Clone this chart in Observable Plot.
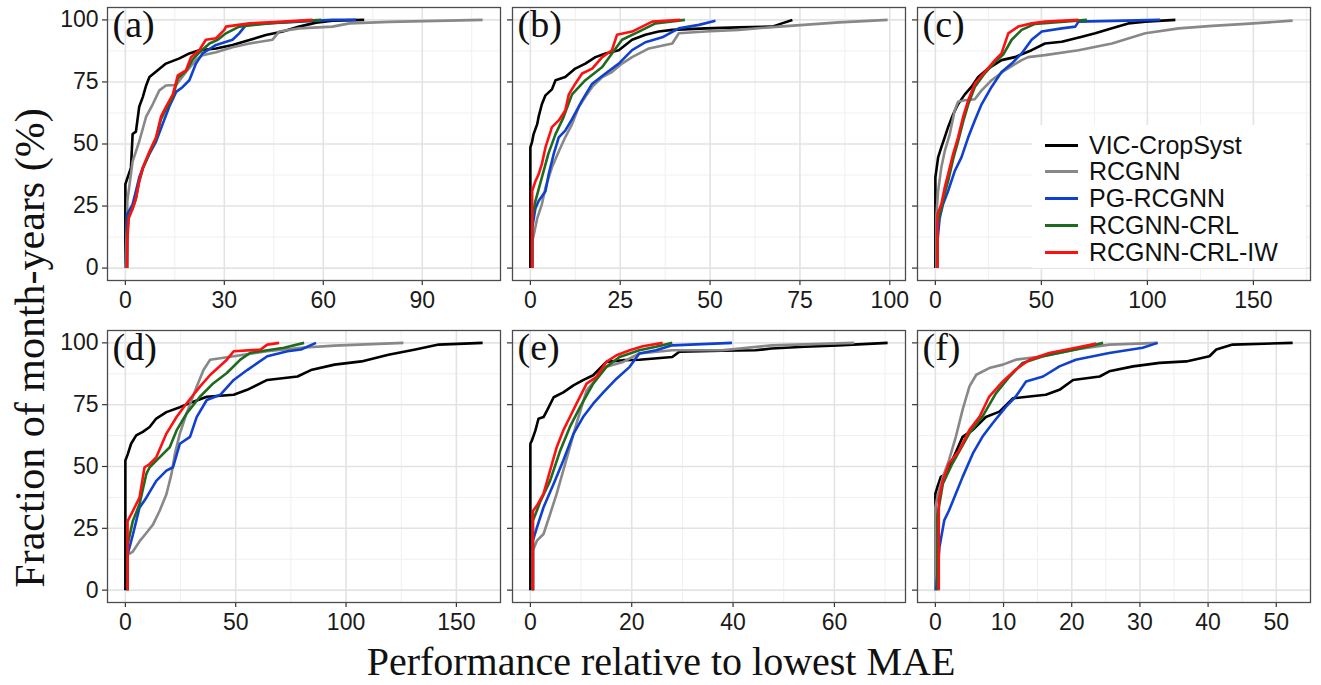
<!DOCTYPE html>
<html><head><meta charset="utf-8">
<script src="https://cdn.jsdelivr.net/npm/d3@7"></script>
<script src="https://cdn.jsdelivr.net/npm/@observablehq/plot@0.6"></script>
<style>
body{margin:0;background:#fff;}
#fig{position:relative;width:1321px;height:685px;overflow:hidden;background:#fff;}
.pan{position:absolute;}
.pan svg{overflow:visible;}
#ytitle{position:absolute;left:30px;top:348px;transform:translate(-50%,-50%) rotate(-90deg);font-family:"Liberation Serif",serif;font-size:42px;line-height:42px;white-space:nowrap;color:#111;}
#xtitle{position:absolute;left:661px;top:662px;transform:translate(-50%,-50%);font-family:"Liberation Serif",serif;font-size:40px;line-height:40px;white-space:nowrap;color:#111;}
#legend{position:absolute;left:1032px;top:125px;width:274px;height:143px;background:#fff;font-family:"Liberation Sans",Arial,sans-serif;font-size:25px;color:#111;}
#legend .row{position:absolute;left:0;height:26px;display:flex;align-items:center;}
#legend .key{width:33px;height:3px;margin-left:13px;margin-right:11px;}
#legend .lab{display:inline-block;height:25px;line-height:25px;overflow:visible;}
</style></head><body><div id="fig">
<div id="ytitle">Fraction of month-years (%)</div>
<div id="xtitle">Performance relative to lowest MAE</div>
</div>
<script>
const models = ["VIC-CropSyst","RCGNN","PG-RCGNN","RCGNN-CRL","RCGNN-CRL-IW"];
const colors = ["#000000","#888888","#1040d0","#1e6b1e","#ff1010"];
const yTicks = [0,25,50,75,100];
const xTicks_a = [0,30,60,90];
const xTicks_b = [0,25,50,75,100];
const xTicks_c = [0,50,100,150];
const xTicks_d = [0,50,100,150];
const xTicks_e = [0,20,40,60];
const xTicks_f = [0,10,20,30,40,50];
const panelLabels = ["(a)","(b)","(c)","(d)","(e)","(f)"];

// panel (a)
const a_vic = [[0,0],[0,33.8],[1.7,40.5],[2.2,54],[3.2,55],[4.2,65],[5.3,69],[6.3,73.6],[7.3,77],[9.8,79.7],[12.3,82.4],[16.4,84.5],[19.4,86.5],[22.4,87.8],[27.5,88.5],[32.5,89.9],[37.6,91.9],[42.6,93.9],[47.7,95.3],[52.7,97.3],[57.8,98.9],[62.8,99.7],[72.4,100]];
const a_rcgnn = [[0,0],[0.5,20],[0.6,27],[2.2,43],[4.2,51],[6.3,61],[8.3,66],[10.3,71.6],[12.3,73.6],[15.4,73.8],[18.4,79],[21.4,83.8],[23.4,85.8],[27.5,87],[32.5,89],[37.6,90.5],[44.6,92],[46.6,95.3],[52.7,96.6],[62.8,97.3],[67.9,98.6],[80,99.2],[108.3,100]];
const a_pg = [[0.5,0],[0.5,21.6],[2.2,25.7],[3.2,31],[4.2,36.5],[5.3,40.5],[7.3,46],[9.3,51],[11.3,58],[13.3,65],[15.4,71],[17.4,73],[19.4,75.7],[21.4,82.4],[23.4,86.5],[27.5,89.9],[32.5,92],[34.5,94.6],[36.6,98],[42.6,98.6],[52.7,99.3],[62.8,100],[69.9,100]];
const a_crl = [[0.5,0],[0.6,14],[1,21],[2.2,24],[3.2,28],[4.2,35],[5.3,40],[7.3,46.5],[9.3,52],[10.8,60],[12.3,64],[14.4,69],[15.9,76.5],[18.4,79.5],[20.4,84],[22.4,86.8],[25.5,90.5],[28,92],[30.5,94.6],[34.5,97.3],[45,98.8],[59.4,100]];
const a_iw = [[0.5,0],[0.6,10.8],[1,20],[2.2,24],[3.2,28],[4.2,35],[5.3,40.5],[7.3,47],[9.3,52.7],[10.8,61],[12.3,65],[14.4,70],[15.9,77.7],[18.4,79.7],[19.9,85],[22.4,87.8],[24.4,92],[27.5,92.6],[30,96],[30.5,97.3],[37.6,98.6],[47.7,99.3],[56.8,100]];

// panel (b)
const b_vic = [[0,0],[0,48.6],[0.5,51],[0.9,54],[1.9,58],[2.3,61],[3.2,66],[4.2,69.6],[6,72],[7,75.7],[9.7,77],[12.5,80.4],[15.3,82.4],[18.1,85],[20.9,86.5],[24.6,87.8],[28.3,92],[32,94],[35.7,95.3],[39.5,96],[48.7,96.6],[58,97],[67.3,97.3],[70,98.6],[72.9,100]];
const b_rcgnn = [[0.5,0],[0.5,10.8],[0.9,13],[1.9,20],[3.2,25.7],[4.2,32.4],[6,40.5],[7.9,47],[9.7,52.7],[11.6,58],[13.5,65],[15.3,69],[17.2,73],[20,77],[22.7,79],[25.5,82.4],[28.3,85],[33,88.5],[39.5,90.5],[41.3,94.6],[48.7,95.3],[58,96],[69.2,97.3],[85.9,99],[99.4,100]];
const b_pg = [[0.5,0],[0.5,16],[1.4,24],[2.3,27],[4.2,31],[5.1,37.8],[6.5,46],[7.9,52.7],[9.7,55.4],[11.6,60],[14.4,67.6],[17.2,74.3],[20.9,78.4],[24.6,82.4],[28.3,87.8],[32,91],[36.7,93],[41.3,96.6],[46.9,98],[51.5,99.7]];
const b_crl = [[0.5,0],[0.5,20],[1.4,27],[3.2,36.5],[5,46],[7,54],[9,60],[11.6,70],[15.3,75.7],[20,81],[22.7,86.5],[25.5,92],[30.2,95.3],[34.8,98.6],[43,100]];
const b_iw = [[0.5,0],[0.5,31],[1.4,35],[2.3,37.8],[3.2,42],[4.2,48.6],[6,56.8],[7.9,59.5],[9.7,63.5],[10.7,70],[12.5,74.3],[14.4,78.4],[17.2,80.4],[20,85],[22.7,87.8],[24.1,94],[28.3,95.3],[31.1,97.3],[33.9,99.3],[41.8,100]];

// panel (c)
const c_vic = [[0,0],[0,36.5],[1.3,44.6],[2.8,48.6],[4.4,52.7],[6,56.8],[8.4,62],[10.7,66],[13.9,70],[17,73],[20.2,77],[24.9,80.4],[31.2,83.8],[37.5,85],[45.4,87.8],[51.7,90.5],[59.6,91.2],[69.1,93.2],[75.4,94.6],[83.3,96.6],[91,98.6],[99,99.3],[113.2,100]];
const c_rcgnn = [[0.5,0],[0.5,21.6],[1.3,31],[2.8,40.5],[4.4,47],[6.8,54],[9.1,63.5],[10.7,67],[13.9,67.6],[18.6,68],[21.8,71.6],[26.5,75.7],[32.8,79.7],[40.7,83.8],[43.8,85],[51.7,85.8],[67.5,87.8],[83.3,90.5],[99,94.6],[114.8,96.6],[130.6,97.6],[146.4,98.4],[168.5,99.7]];
const c_pg = [[1,0],[1,10.8],[2,20],[3.6,25.7],[6,31],[9.1,39],[12.3,44.6],[15.5,52.7],[18.6,59.5],[21.8,66],[26.5,73],[31.2,79],[36,82.4],[40.7,86.5],[45.4,92],[50.2,95.3],[59.6,96.6],[66,97.3],[67.5,99.3],[106,100]];
const c_crl = [[1,0],[1,18],[2.8,24],[4.4,30],[6,35],[8.4,44],[10.7,51],[13.1,59],[15.5,66],[18.6,73],[23.3,78.5],[28.1,83],[32,86],[36,92],[40.7,96],[47,98.4],[71.5,100]];
const c_iw = [[1,0],[1,21.6],[2.8,25.7],[4.4,32.4],[6,37.8],[8.4,46],[10.7,52.7],[13.1,61],[15.5,67.6],[18.6,74.3],[23.3,79],[28.1,83.8],[31.2,86.5],[34.4,94.6],[39.1,97.3],[45.4,98.6],[51.7,99.3],[67.5,100]];

// panel (d)
const d_vic = [[0,0],[0,52.4],[1.1,55],[2.6,59.2],[4.9,62.6],[7.9,64],[11,66],[14,69.4],[18.6,72],[24.7,74],[30.8,76.2],[36.9,78.2],[49.1,79],[55.2,81],[64.3,85],[78,86.4],[84.1,89],[94.8,91.2],[107,92.5],[119.2,95.2],[131.4,97.3],[142,99.3],[161.9,100]];
const d_rcgnn = [[1,0],[1,14.3],[3.4,15.6],[6.4,19.7],[9.5,23.1],[12.5,26.5],[15.5,32],[18.6,38.8],[20.9,47],[22.4,55],[24.7,63.3],[27.7,71.4],[32.3,82.3],[35.4,89],[38.4,93.2],[49.1,94.6],[64.3,96.6],[79.6,98],[94.8,98.9],[126,100]];
const d_pg = [[1,0],[1,14.3],[3.4,22.4],[6.4,33.3],[9.5,37.4],[14,44.2],[18.6,48.3],[21.6,49.7],[24.7,59.2],[29.3,62],[32.3,70],[36.9,76.9],[43,79],[49.1,85],[55.2,89],[64.3,94.6],[73.5,96.6],[79.6,97.3],[86.4,100]];
const d_crl = [[1,0],[1,18.4],[3.4,28],[6.4,34.7],[9.5,47],[11,49.7],[15.5,53.7],[20.1,57.8],[23.2,64.6],[27.7,71.4],[33.8,78.2],[39.9,83.7],[46,87.8],[52.1,93.2],[56.7,96],[71.9,98],[81,100]];
const d_iw = [[1,0],[1,27.9],[3.4,32],[6.4,37.4],[8.7,49.7],[11,51],[14,53.7],[18.6,63.3],[23.2,70],[27.7,75.5],[33.8,82.3],[38.4,87],[46,93.2],[49.1,96.6],[61.3,97.3],[64.3,99.3],[69.7,100]];

// panel (e)
const e_vic = [[0,0],[0,59.2],[0.3,60.5],[1,64.6],[1.6,69.3],[2.6,70],[3.3,72.7],[4.6,78],[6.5,80],[8.5,82.8],[10.4,84.9],[12.4,86.9],[15,92.3],[18.3,93],[21.5,93.2],[28,94.3],[29.4,96.4],[37.8,96.8],[44.4,97],[47.6,97.7],[54.1,98.4],[60.7,99],[70.5,100]];
const e_rcgnn = [[0.5,0],[0.5,16],[1.3,20],[2.6,22.7],[3.9,30.8],[5.2,39],[6.5,48.4],[7.8,57.8],[9.1,67.3],[11.1,80.8],[13,85.5],[15,90.3],[18.3,92.3],[21.5,95.7],[28,97],[37.8,97],[47.6,99],[63.9,100]];
const e_pg = [[0.5,0],[0.5,20],[1.3,25.4],[2.6,33.5],[4.6,43],[6.5,52.4],[8.5,63.2],[10.4,70],[12.4,75.4],[14.4,80],[17,85.5],[19.6,90.3],[21.5,95.7],[24.8,97],[28,99],[39.8,100]];
const e_crl = [[0.5,0],[0.5,28],[2,36],[3.9,44.3],[5.9,56.5],[7.8,66],[9.8,74],[12.4,83.5],[15,90.3],[17.6,94.3],[21.5,97],[24.8,98.4],[28,100]];
const e_iw = [[0.5,0],[0.5,32],[1.3,34.2],[2.6,39],[3.9,48.4],[5.2,57.8],[6.5,64.6],[7.8,70],[9.1,75.4],[11.1,83.5],[13,86.2],[15,92.3],[17,95],[19.6,97],[22.2,98.6],[26.1,100]];

// panel (f)
const f_vic = [[0,0],[0,39],[0.3,41.7],[0.8,45.8],[1.6,47],[2.5,52.6],[4,62],[5.5,64.8],[7.4,70],[9.4,72.2],[11.4,77.6],[13.8,78.3],[16.2,79],[18.2,81],[20.2,85],[24.1,86.4],[25.5,88.5],[29,90.5],[32.9,91.9],[36.8,92.5],[40.2,94.6],[41.2,97.3],[43.6,99.3],[52.4,100]];
const f_rcgnn = [[0,0],[0,33.6],[0.3,37.7],[1.1,45.8],[2,52.6],[3,62],[4,73],[5,82.4],[6,87.1],[7.9,89.8],[9.9,91.2],[11.8,93.2],[15.8,94.6],[20.6,97.3],[25.5,99.3],[32.6,100]];
const f_pg = [[0.1,0],[0.6,17.3],[1.3,28.2],[2,32.2],[3,39],[4,45.8],[5.5,55.3],[6.9,62],[8.4,67.5],[10.4,74.3],[11.8,78.3],[13.3,84.4],[15.8,86.4],[18.2,90.5],[20.6,93.2],[25.5,95.9],[30.4,98],[32.6,100]];
const f_crl = [[0.3,0],[0.3,30],[1.1,43],[2.5,51.2],[5,63.5],[6.9,70.2],[8.9,79.7],[10.9,86.4],[12.8,91.9],[15.8,94.6],[20.6,97.3],[24.6,100]];
const f_iw = [[0.5,0],[0.5,36.3],[1.1,44.4],[2,51.2],[3.5,56.6],[5,64.8],[6.5,70.2],[7.9,78.3],[9.9,84.4],[11.8,89.2],[13.8,93.2],[16.7,95.9],[20.6,98],[23.6,99.7]];

const fig = document.getElementById("fig");

function rows(series){
  return series.flatMap((pts,i)=>pts.map(([x,y])=>({model:models[i],x,y})));
}

function panel(label, series, xTicks, left, top, ml, showY, innerH){
  const data = rows(series);
  const xmax = d3.max(data, d=>d.x);
  const dom = [-0.05*xmax, 1.05*xmax];
  const step = xTicks[1]-xTicks[0];
  const minorX = xTicks.map(t=>t+step/2).filter(v=>v<=dom[1]);
  const minorY = yTicks.slice(0,-1).map(t=>t+12.5);
  const mt = 7, mb = 40;
  const p = Plot.plot({
    width: ml + 393 + 2, height: mt + innerH + mb,
    marginLeft: ml, marginRight: 2, marginTop: mt, marginBottom: mb,
    x: {domain: dom},
    y: {domain: [-5, 105]},
    color: {domain: models, range: colors},
    style: {fontFamily: "'Liberation Sans', Arial, sans-serif", fontSize: "23px", color: "#1a1a1a", background: "transparent", overflow: "visible"},
    marks: [
      Plot.ruleX(minorX, {stroke: "#f0f0f0", strokeWidth: 1}),
      Plot.ruleY(minorY, {stroke: "#f0f0f0", strokeWidth: 1}),
      Plot.ruleX(xTicks, {stroke: "#e3e3e3", strokeWidth: 1.6}),
      Plot.ruleY(yTicks, {stroke: "#e3e3e3", strokeWidth: 1.6}),
      Plot.axisX({ticks: xTicks, tickSize: 5, tickPadding: 6, label: null, stroke: "#333", strokeWidth: 1.2}),
      Plot.axisY({ticks: yTicks, tickSize: 5, tickPadding: 4, label: null, stroke: "#333", strokeWidth: 1.2, tickFormat: showY ? (d => d) : (() => "")}),
      Plot.line(data, {x: "x", y: "y", z: "model", stroke: "model", strokeWidth: 2.6, strokeLinejoin: "round", strokeLinecap: "butt"}),
      Plot.frame({stroke: "#4d4d4d", strokeWidth: 1.3}),
      Plot.text([label], {frameAnchor: "top-left", dx: 5, dy: 3, fontSize: 38, fontFamily: "'Liberation Serif', serif", fill: "#111"})
    ]
  });
  const div = document.createElement("div");
  div.className = "pan";
  div.style.left = left + "px";
  div.style.top = top + "px";
  div.appendChild(p);
  fig.appendChild(div);
}

panel(panelLabels[0], [a_vic,a_rcgnn,a_pg,a_crl,a_iw], xTicks_a, 0, 0, 107, true, 273);
panel(panelLabels[1], [b_vic,b_rcgnn,b_pg,b_crl,b_iw], xTicks_b, 410, 0, 102, false, 273);
panel(panelLabels[2], [c_vic,c_rcgnn,c_pg,c_crl,c_iw], xTicks_c, 815, 0, 102, false, 273);
panel(panelLabels[3], [d_vic,d_rcgnn,d_pg,d_crl,d_iw], xTicks_d, 0, 323, 107, true, 272);
panel(panelLabels[4], [e_vic,e_rcgnn,e_pg,e_crl,e_iw], xTicks_e, 410, 323, 102, false, 272);
panel(panelLabels[5], [f_vic,f_rcgnn,f_pg,f_crl,f_iw], xTicks_f, 815, 323, 102, false, 272);

// legend (inside panel c)
const leg = document.createElement("div");
leg.id = "legend";
models.forEach((m,i)=>{
  const r = document.createElement("div");
  r.className = "row";
  r.style.top = (7 + i*26.8) + "px";
  const k = document.createElement("div");
  k.className = "key"; k.style.background = colors[i];
  const t = document.createElement("span");
  t.className = "lab";
  t.textContent = m;
  r.appendChild(k); r.appendChild(t);
  leg.appendChild(r);
});
fig.appendChild(leg);
</script></body></html>
